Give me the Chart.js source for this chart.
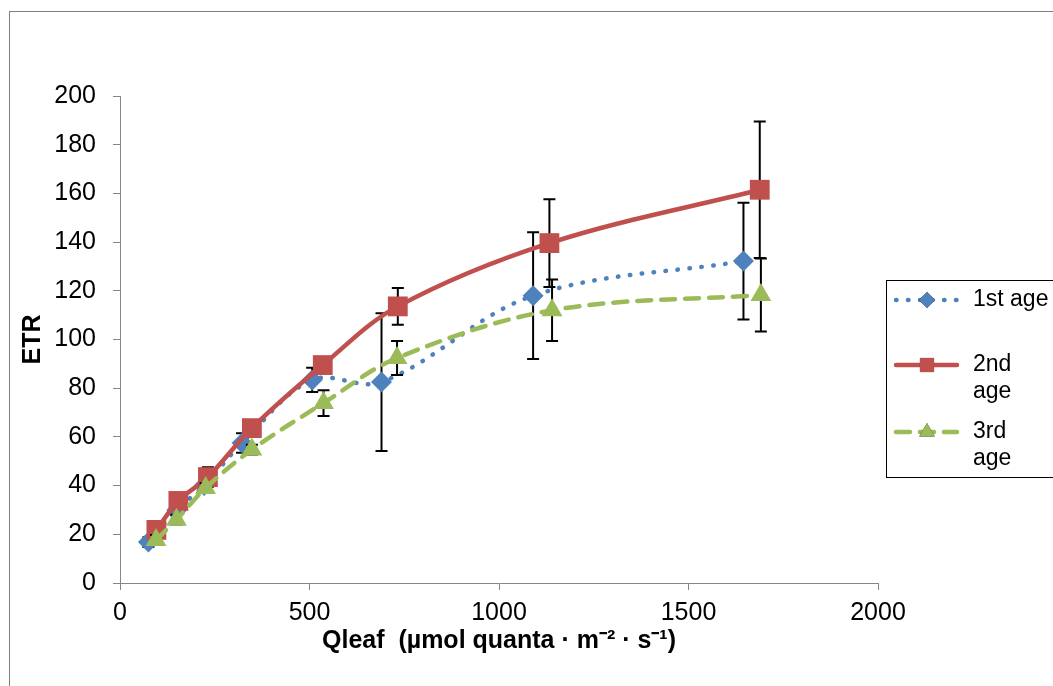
<!DOCTYPE html>
<html>
<head>
<meta charset="utf-8">
<script src="https://cdn.jsdelivr.net/npm/chart.js@4"></script>
<style>
  body { margin: 0; background: #fff; }
</style>
</head>
<body>
<canvas id="etrChart" width="1053" height="686"></canvas>
<script>
// 1st age
const qleaf1 = [75, 150, 222, 322, 507, 690, 1090, 1645];
const etr1 = [16.8, 30, 40, 57.5, 83.4, 82.5, 118, 132.2];
const err1 = [2, 2, 2, 4, 5, 28.3, 26, 24];
// 2nd age
const qleaf2 = [96, 154, 232, 348, 535, 733, 1133, 1688];
const etr2 = [21.8, 33.7, 43.5, 63.6, 89.5, 113.6, 139.6, 161.5];
const err2 = [2, 3, 4, 3, 2, 7.5, 18, 28];
// 3rd age
const qleaf3 = [95, 149, 226, 348, 537, 731, 1140, 1691];
const etr3 = [17.7, 26, 39, 54.8, 73.9, 92.4, 112, 118.3];
const err3 = [2, 2, 2, 2, 5.3, 7, 12.6, 15];

const seriesNames = ["1st age", "2nd age", "3rd age"];
const errors = [err1, err2, err3];

const axisGrey = "#868686";
const FONT = "'Liberation Sans', Arial, sans-serif";

function toPoints(xs, ys) {
    return xs.map((x, i) => ({ x: x, y: ys[i] }));
}

// error bars, drawn under each series' own line and markers
const errorBars = {
    id: "errorBars",
    beforeDatasetDraw(chart, args) {
        const ctx = chart.ctx;
        const yScale = chart.scales.y;
        const errs = errors[args.index];
        const meta = args.meta;
        ctx.save();
        ctx.strokeStyle = "#000";
        ctx.lineWidth = 2;
        meta.data.forEach((pt, i) => {
            const v = chart.data.datasets[args.index].data[i].y;
            const top = yScale.getPixelForValue(v + errs[i]);
            const bot = yScale.getPixelForValue(v - errs[i]);
            ctx.beginPath();
            ctx.moveTo(pt.x, top);
            ctx.lineTo(pt.x, bot);
            ctx.moveTo(pt.x - 6, top);
            ctx.lineTo(pt.x + 6, top);
            ctx.moveTo(pt.x - 6, bot);
            ctx.lineTo(pt.x + 6, bot);
            ctx.stroke();
        });
        ctx.restore();
    }
};

// outer frame and the legend box on the right
const legendMarkerSize = [8, 10, 9];
const frameAndLegend = {
    id: "frameAndLegend",
    afterDraw(chart) {
        const ctx = chart.ctx;
        ctx.save();
        ctx.strokeStyle = "#7f7f7f";
        ctx.lineWidth = 1;
        ctx.strokeRect(9.5, 11.5, 1200, 1000);

        ctx.strokeStyle = "#000";
        ctx.strokeRect(886.5, 280.5, 300, 197);

        const rows = [300, 365, 432];
        const textLines = [["1st age"], ["2nd", "age"], ["3rd", "age"]];
        chart.data.datasets.forEach((ds, i) => {
            const y = rows[i];
            ctx.save();
            ctx.strokeStyle = ds.borderColor;
            ctx.lineWidth = ds.borderWidth;
            ctx.lineCap = "round";
            ctx.setLineDash(ds.borderDash || []);
            ctx.beginPath();
            ctx.moveTo(896, y);
            ctx.lineTo(957, y);
            ctx.stroke();
            ctx.restore();
            Chart.helpers.drawPoint(ctx, {
                pointStyle: ds.pointStyle,
                radius: legendMarkerSize[i],
                borderWidth: 0
            }, 927, y);
            ctx.fillStyle = ds.backgroundColor;
            ctx.fill();
            ctx.fillStyle = "#000";
            ctx.font = "23px " + FONT;
            ctx.textBaseline = "middle";
            textLines[i].forEach((t, k) => {
                ctx.fillText(t, 973, y + k * 27);
            });
        });
        ctx.restore();
    }
};

const tickFont = { family: FONT, size: 25 };

new Chart(document.getElementById("etrChart").getContext("2d"), {
    type: "scatter",
    data: {
        datasets: [
            {
                label: seriesNames[0],
                data: toPoints(qleaf1, etr1),
                showLine: true,
                borderColor: "#4F81BD",
                backgroundColor: "#4F81BD",
                borderWidth: 4.5,
                borderDash: [0.5, 11.5],
                borderCapStyle: "round",
                tension: 0.35,
                pointStyle: "rectRot",
                pointRadius: 10.5,
                pointBorderWidth: 0,
                order: 3
            },
            {
                label: seriesNames[1],
                data: toPoints(qleaf2, etr2),
                showLine: true,
                borderColor: "#C0504D",
                backgroundColor: "#C0504D",
                borderWidth: 4.5,
                tension: 0.35,
                pointStyle: "rect",
                pointRadius: 14,
                pointBorderWidth: 0,
                order: 2
            },
            {
                label: seriesNames[2],
                data: toPoints(qleaf3, etr3),
                showLine: true,
                borderColor: "#9BBB59",
                backgroundColor: "#9BBB59",
                borderWidth: 4.5,
                borderDash: [14, 10],
                borderCapStyle: "round",
                tension: 0.35,
                pointStyle: "triangle",
                pointRadius: 12,
                pointBorderWidth: 0,
                order: 1
            }
        ]
    },
    options: {
        responsive: false,
        animation: false,
        devicePixelRatio: 1,
        layout: { padding: { left: 0, top: 96, right: 175, bottom: 0 } },
        plugins: {
            legend: { display: false },
            tooltip: { enabled: false }
        },
        scales: {
            x: {
                type: "linear",
                min: 0,
                max: 2000,
                afterFit(scale) { scale.height = 103; },
                border: { color: axisGrey, width: 1 },
                grid: { drawOnChartArea: false, drawTicks: true, tickLength: 7, color: axisGrey },
                ticks: {
                    stepSize: 500, color: "#000", font: tickFont, padding: 8, maxRotation: 0,
                    callback: (v) => String(v)
                },
                title: {
                    display: true,
                    text: "Qleaf  (µmol quanta · m⁻² · s⁻¹)",
                    color: "#000",
                    font: { family: FONT, size: 25, weight: "bold" },
                    padding: { top: 0, bottom: 30 }
                }
            },
            y: {
                min: 0,
                max: 200,
                afterFit(scale) { scale.width = 120; },
                border: { color: axisGrey, width: 1 },
                grid: { drawOnChartArea: false, drawTicks: true, tickLength: 7, color: axisGrey },
                ticks: { stepSize: 20, color: "#000", font: tickFont, padding: 17 },
                title: {
                    display: true,
                    text: "ETR",
                    color: "#000",
                    font: { family: FONT, size: 25, weight: "bold" },
                    padding: { top: 18, bottom: 0 }
                }
            }
        }
    },
    plugins: [errorBars, frameAndLegend]
});
</script>
</body>
</html>
